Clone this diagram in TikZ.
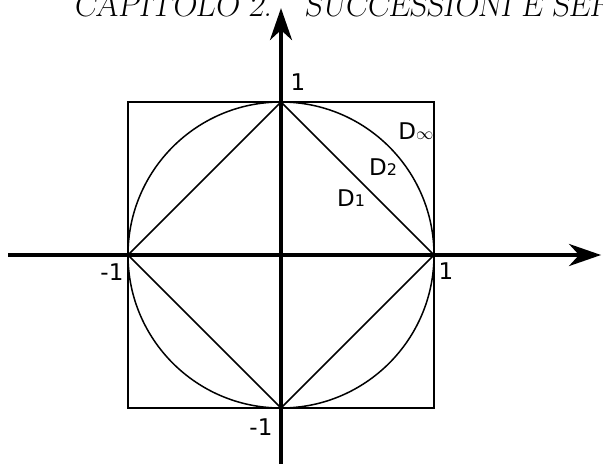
\documentclass[tikz,border=0pt]{standalone}
\usepackage{fontspec}
\newfontfamily\labelfont{DejaVu Sans}
\usetikzlibrary{arrows.meta}
\newcommand{\dsub}[1]{{\fontsize{16}{17}\selectfont #1}}
\begin{document}
\begin{tikzpicture}[x=153pt,y=153pt,
				axis/.style={line width=4pt,-{Stealth[length=32pt,width=22pt,inset=10pt]}},
				outline/.style={line width=1.5pt},
				lbl/.style={font=\labelfont\fontsize{23}{25}\selectfont,inner sep=0pt},
				header/.style={anchor=base west,inner sep=0pt,font=\fontsize{33}{36}\selectfont\slshape}]
				\useasboundingbox (-1.8366,-1.3595) rectangle (2.1046,1.6667);
				% running head, cut at the top
				\node[header] (head) at (-1.359,1.562) {CAPITOLO 2.\quad SUCCESSIONI E SERIE};
				\coordinate (O) at (0,0);
				% the three unit balls
				\draw[outline] (-1,-1) rectangle (1,1);
				\draw[outline] (O) circle (1);
				\draw[outline] (1,0) -- (0,1) -- (-1,0) -- (0,-1) -- cycle;
				% axes
				\coordinate (xstart) at (-1.784,0);
				\coordinate (xend) at (2.092,0);
				\coordinate (ystart) at (0,-1.40);
				\coordinate (yend) at (0,1.614);
				\draw[axis] (xstart) -- (xend);
				\draw[axis] (ystart) -- (yend);
				% labels
				\node[lbl] (ytop) at (0.111,1.131) {1};
				\node[lbl] (xright) at (1.078,-0.105) {1};
				\node[lbl] (xleft) at (-1.105,-0.111) {-1};
				\node[lbl] (ybottom) at (-0.131,-1.124) {-1};
				\node[lbl] (dinf) at (0.882,0.810) {D\dsub{$\infty$}};
				\node[lbl] (dtwo) at (0.667,0.575) {D\dsub{2}};
				\node[lbl] (done) at (0.458,0.373) {D\dsub{1}};
\end{tikzpicture}
\end{document}
